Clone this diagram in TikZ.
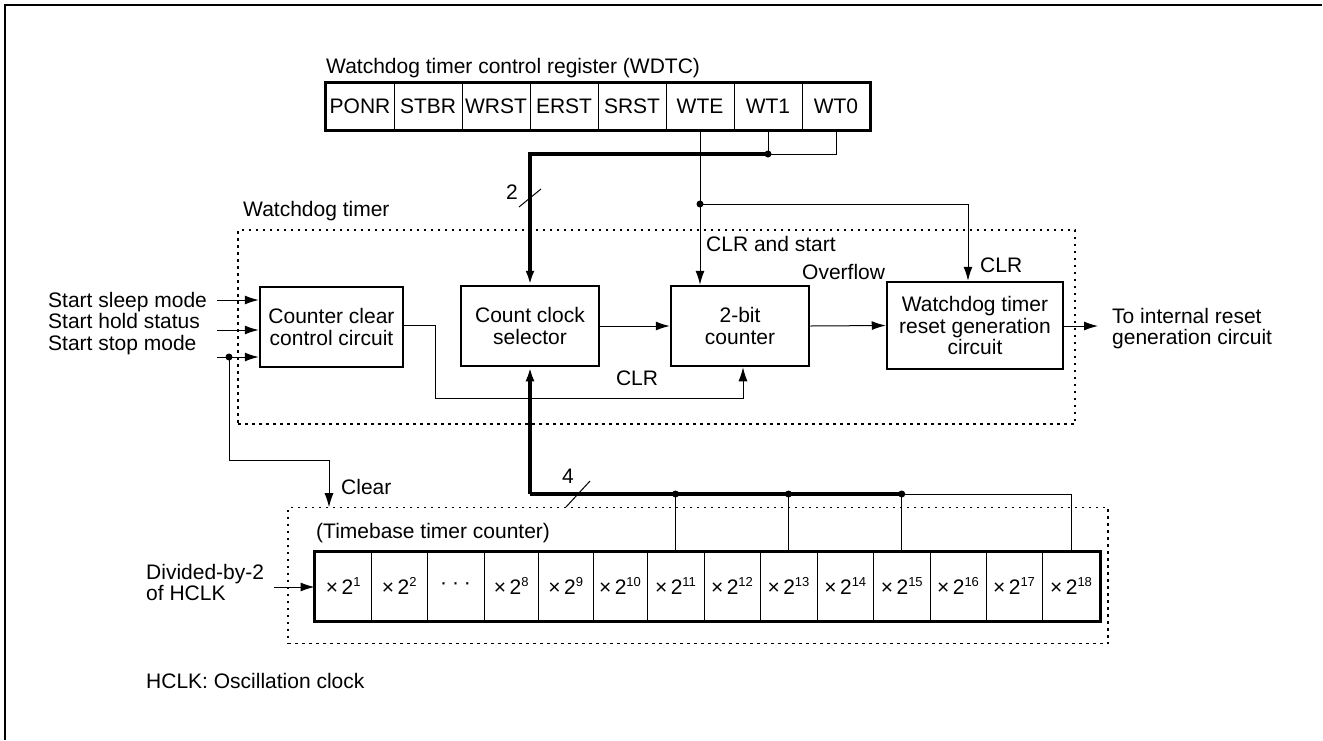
\documentclass[tikz,border=0pt]{standalone}
\usepackage{fontspec}
\setmainfont{Liberation Sans}
\usetikzlibrary{arrows.meta}
\newcommand\supx[1]{\raisebox{0.42em}{\fontsize{13}{13}\selectfont #1}}
\tikzset{
  txt/.style={inner sep=0pt, anchor=base west, font=\fontsize{21}{21.5}\selectfont},
  blk/.style={draw, line width=2.5pt, inner sep=0pt, align=center, font=\fontsize{21}{21.5}\selectfont},
  cellbox/.style={draw, line width=1pt, inner sep=0pt, font=\fontsize{21}{21.5}\selectfont},
  wire/.style={line width=1pt},
  bus/.style={line width=3.2pt},
  arr/.style={-{Latex[length=14pt,width=9pt]}},
  dotbox/.style={draw, line width=1.2pt, dash pattern=on 2.5pt off 4.5pt, inner sep=0pt},
  jn/.style={circle, fill, inner sep=0pt, minimum size=7pt},
}
\begin{document}
\begin{tikzpicture}[x=1pt,y=-1pt]
\useasboundingbox (0,0) rectangle (1323,740);
% frame
\draw[line width=1.5pt] (5,740) -- (5,5) -- (1322,5);

% register
\node[txt] (title) at (326,73) {Watchdog timer control register (WDTC)};
\foreach \n [count=\i from 0] in {PONR,STBR,WRST,ERST,SRST,WTE,WT1,WT0}
  \node[cellbox, minimum width=68pt, minimum height=47pt] (r\i) at ({326+68*\i+34},106) {\n};
\draw[line width=3pt] (r0.north west) rectangle (r7.south east);

% watchdog box
\node[dotbox, minimum width=837pt, minimum height=194pt] (wdbox) at (656.5,327) {};
\node[txt] (wdlbl) at (243,216) {Watchdog timer};

\node[blk, minimum width=143pt, minimum height=80pt] (ccc) at (331.5,327) {Counter clear\\control circuit};
\node[blk, minimum width=138pt, minimum height=80pt] (sel) at (530,326) {Count clock\\selector};
\node[blk, minimum width=138pt, minimum height=80pt] (cnt) at (740,326) {2-bit\\counter};
\node[blk, minimum width=176pt, minimum height=87pt] (rst) at (975,325.5) {Watchdog timer\\reset generation\\circuit};

% inputs
\node[txt] (s1) at (48,307) {Start sleep mode};
\node[txt] (s2) at (48,328.5) {Start hold status};
\node[txt] (s3) at (48,350) {Start stop mode};
\coordinate (in1) at (217,300);
\coordinate (in2) at (217,330);
\coordinate (in3) at (217,357);
\draw[wire,arr] (in1) -- (in1 -| ccc.west);
\draw[wire,arr] (in2) -- (in2 -| ccc.west);
\draw[wire,arr] (in3) -- (in3 -| ccc.west);
\coordinate (jstop) at (229,357);
\node[jn] (djstop) at (jstop) {};

% timebase
\node[dotbox, minimum width=820pt, minimum height=136pt] (tbbox) at (698,575.8) {};
\node[txt] (tblbl) at (316,538) {(Timebase timer counter)};
\foreach \a/\b/\t [count=\i from 0] in {
  315/371.5/{×\,2\supx{1}}, 371.5/427/{×\,2\supx{2}}, 427/484/{·\hspace{5pt}·\hspace{5pt}·},
  484/538.5/{×\,2\supx{8}}, 538.5/593/{×\,2\supx{9}}, 593/647/{×\,2\supx{10}},
  647/704/{×\,2\supx{11}}, 704/760/{×\,2\supx{12}}, 760/817/{×\,2\supx{13}},
  817/873.5/{×\,2\supx{14}}, 873.5/930/{×\,2\supx{15}}, 930/986/{×\,2\supx{16}},
  986/1042/{×\,2\supx{17}}, 1042/1100/{×\,2\supx{18}}}
  \node[cellbox, minimum width={(\b-\a)*1pt}, minimum height=69pt] (t\i) at ({(\a+\b)/2},586) {\t};
\draw[line width=3pt] (t0.north west) rectangle (t13.south east);
\node[txt] (div1) at (146,579) {Divided-by-2};
\node[txt] (div2) at (146,600) {of HCLK};
\coordinate (hin) at (274,587);
\draw[wire,arr] (hin) -- (hin -| t0.west);
\node[txt] (note) at (146,688) {HCLK: Oscillation clock};

% register connections
\coordinate (j1) at (768,154);
\coordinate (j2) at (700,204);
\draw[wire] (r7.south) |- (j1);
\draw[wire] (r6.south) -- (j1);
\draw[bus,arr] (j1) -| (sel.north);
\node[jn] (dj1) at (j1) {};
\draw[wire,arr] (r5.south) -- (r5.south |- cnt.north);
\draw[wire,arr] (j2) -| ([xshift=-7pt]rst.north);
\node[jn] (dj2) at (j2) {};
\draw[wire] (519,207) -- (541,189);
\node[txt] (lbl2) at (506,199) {2};

\node[txt] (clrs) at (706,251) {CLR and start};
\node[txt] (ovf) at (802,279) {Overflow};
\node[txt] (clr1) at (980,272) {CLR};

% internal connections
\draw[wire,arr] (sel.east) -- (cnt.west);
\draw[wire,arr] (cnt.east) -- (rst.west);
\coordinate (outp) at (1098,326);
\draw[wire,arr] (rst.east |- outp) -- (outp);
\node[txt] (o1) at (1112,323) {To internal reset};
\node[txt] (o2) at (1112,344.5) {generation circuit};

\coordinate (k1) at (435,398);
\draw[wire,arr] (ccc.east |- 0,325) -| (k1) -| ([xshift=3pt]cnt.south);
\node[txt, anchor=base] (clr2) at (637,385) {CLR};

% clear
\coordinate (cb) at (329,460);
\draw[wire,arr] (jstop) |- (cb) -- (cb |- tbbox.north);
\node[txt] (clr3) at (341,494) {Clear};

% timebase bus
\coordinate (tb) at (530,494);
\coordinate (d1) at (t6.north |- tb);
\coordinate (d2) at (t8.north |- tb);
\coordinate (d3) at (t10.north |- tb);
\draw[bus,arr] (tb) -- (sel.south);
\draw[bus] (tb) -- (d3);
\draw[wire] (d3) -| (t13.north);
\draw[wire] (d1) -- (t6.north);
\draw[wire] (d2) -- (t8.north);
\draw[wire] (d3) -- (t10.north);
\node[jn] (dd1) at (d1) {};
\node[jn] (dd2) at (d2) {};
\node[jn] (dd3) at (d3) {};
\draw[wire] (566,507) -- (590,481);
\node[txt] (lbl4) at (562,483) {4};
\end{tikzpicture}
\end{document}
